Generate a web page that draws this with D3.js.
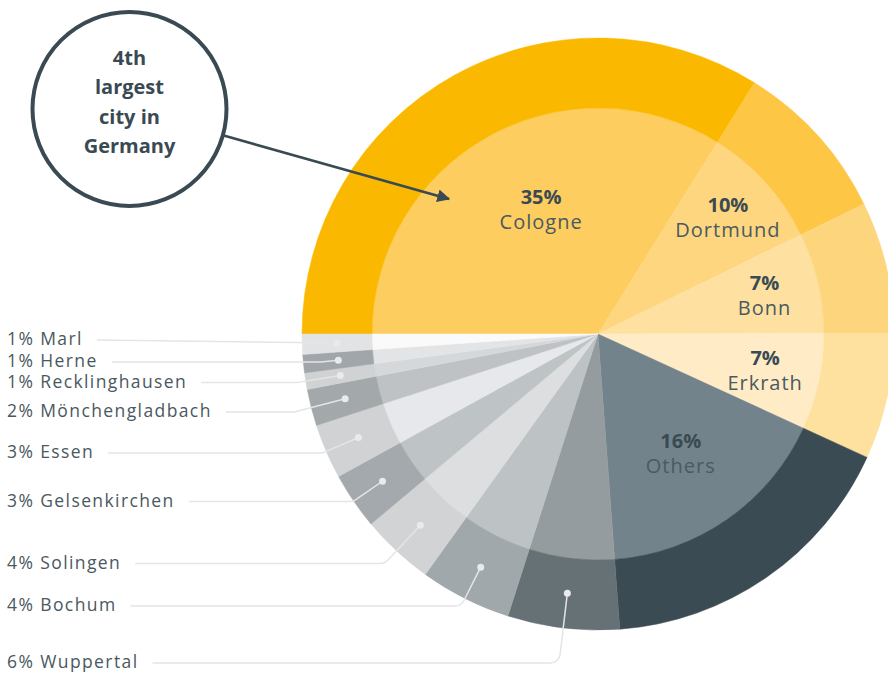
<!DOCTYPE html>
<html>
<head>
<meta charset="utf-8">
<script src="https://cdn.jsdelivr.net/npm/d3@7"></script>
<style>
  html, body { margin: 0; padding: 0; background: #fff; }
  svg { display: block; }
</style>
</head>
<body>
<svg id="chart" width="888" height="673"></svg>
<script>
// slices in drawing order, clockwise from 9 o'clock
const cities = ["Cologne", "Dortmund", "Bonn", "Erkrath", "Others", "Wuppertal", "Bochum",
  "Solingen", "Gelsenkirchen", "Essen", "Mönchengladbach", "Recklinghausen", "Herne", "Marl"];
// share of each slice
const shares = [33.9, 8.9, 7.2, 6.9, 17.0, 6.1, 5.0, 4.0, 3.1, 3.0, 2.0, 0.9, 1.0, 1.1];
// printed labels
const shareLabels = ["35%", "10%", "7%", "7%", "16%", "6%", "4%", "4%", "3%", "3%", "2%", "1%", "1%", "1%"];

const outerColors = ["#fab900", "#fdc645", "#fdd57c", "#fee19f", "#3a4b53", "#667176", "#a1a8ab",
  "#d1d3d5", "#a3a9ac", "#d0d2d4", "#a3a8ab", "#d0d2d4", "#a0a6a9", "#e2e3e5"];
const innerColors = ["#fdcd5f", "#fed67f", "#fee0a0", "#ffecc6", "#72838b", "#959c9f", "#bdc2c4",
  "#dcdee0", "#bec3c5", "#e6e8eb", "#bec2c4", "#d5d8da", "#e2e4e6", "#fafafa"];

// layout
const cx = 598, cy = 334;
const rInner = 226, rOuter = 296;
const insideCount = 5; // first slices labelled inside the pie
const insideLabelR = [137, 175, 171, 171, 145];
const insideLabelTurn = [4.5, 0, 0, 0, 0]; // degrees, nudges label off the mid angle
// baselines of the left-hand labels (Wuppertal ... Marl)
const sideBaselines = [668, 611, 568.5, 506.5, 458, 417, 387.5, 367, 345];

const svg = d3.select("#chart");
const g = svg.append("g").attr("transform", `translate(${cx},${cy})`);

const pie = d3.pie().sort(null).value(d => d.share)
  .startAngle(-Math.PI / 2).endAngle(Math.PI * 1.5);
const arcs = pie(cities.map((c, i) => ({ city: c, share: shares[i], label: shareLabels[i], i })));

const innerArc = d3.arc().innerRadius(0).outerRadius(rInner);
const outerArc = d3.arc().innerRadius(rInner).outerRadius(rOuter);

g.selectAll(".inner").data(arcs).join("path")
  .attr("class", "inner")
  .attr("d", innerArc)
  .attr("fill", d => innerColors[d.data.i])
  .attr("stroke", d => innerColors[d.data.i])
  .attr("stroke-width", 0.5);

g.selectAll(".outer").data(arcs).join("path")
  .attr("class", "outer")
  .attr("d", outerArc)
  .attr("fill", d => outerColors[d.data.i])
  .attr("stroke", d => outerColors[d.data.i])
  .attr("stroke-width", 0.5);

// labels inside the pie
const inside = arcs.slice(0, insideCount);
const insideG = g.selectAll(".inlabel").data(inside).join("g")
  .attr("class", "inlabel")
  .attr("transform", (d, i) => {
    const a = (d.startAngle + d.endAngle) / 2 + insideLabelTurn[i] * Math.PI / 180;
    const x = Math.sin(a) * insideLabelR[i], y = -Math.cos(a) * insideLabelR[i];
    return `translate(${x},${y})`;
  });
insideG.append("text")
  .attr("text-anchor", "middle")
  .attr("y", -5)
  .attr("font-family", "'Open Sans', sans-serif")
  .attr("font-weight", 700)
  .attr("font-size", 20)
  .attr("fill", "#3a4a52")
  .text(d => d.data.label);
insideG.append("text")
  .attr("text-anchor", "middle")
  .attr("y", 20)
  .attr("font-family", "'Open Sans', sans-serif")
  .attr("font-weight", 400)
  .attr("font-size", 20)
  .attr("letter-spacing", 1)
  .attr("fill", "#4a5a62")
  .text(d => d.data.city);

// labels on the left with leader lines
const outside = arcs.slice(insideCount);
const dotArc = d3.arc().innerRadius(rInner).outerRadius(rOuter);
const side = svg.append("g");

outside.forEach((d, i) => {
  const base = sideBaselines[i];
  const t = side.append("text")
    .attr("x", 7)
    .attr("y", base)
    .attr("font-family", "'Open Sans', sans-serif")
    .attr("font-size", 17.5)
    .attr("letter-spacing", 1.4)
    .attr("fill", "#4a5860")
    .text(`${d.data.label} ${d.data.city}`);
  const textEnd = 7 + t.node().getComputedTextLength();

  const [dx, dy] = dotArc.centroid(d);
  const px = cx + dx, py = cy + dy;
  const mid = (d.startAngle + d.endAngle) / 2;
  const ux = Math.sin(mid), uy = -Math.cos(mid);
  const ly = base - 5;
  const tt = (ly - py) / uy;
  const p = d3.path();
  p.moveTo(textEnd + 14, ly);
  if (tt > 3) {
    const bx = px + ux * tt;
    p.arcTo(bx, ly, px, py, 10);
  }
  p.lineTo(px, py);
  side.append("path")
    .attr("d", p.toString())
    .attr("fill", "none")
    .attr("stroke", "#e3e5e7")
    .attr("stroke-width", 1.5);
  side.append("circle")
    .attr("cx", px).attr("cy", py).attr("r", 3.5)
    .attr("fill", "#e8eaec");
});

// annotation bubble
const bubble = { x: 129.5, y: 109, r: 97 };
const arrowTip = [449, 199];
const ann = svg.append("g");
svg.append("defs").append("marker")
  .attr("id", "head")
  .attr("viewBox", "0 0 10 10")
  .attr("refX", 9).attr("refY", 5)
  .attr("markerWidth", 5).attr("markerHeight", 5)
  .attr("markerUnits", "strokeWidth")
  .attr("orient", "auto")
  .append("path").attr("d", "M0,0L10,5L0,10Z").attr("fill", "#3a4a52");

const ang = Math.atan2(arrowTip[1] - bubble.y, arrowTip[0] - bubble.x);
ann.append("line")
  .attr("x1", bubble.x + Math.cos(ang) * bubble.r)
  .attr("y1", bubble.y + Math.sin(ang) * bubble.r)
  .attr("x2", arrowTip[0]).attr("y2", arrowTip[1])
  .attr("stroke", "#3a4a52").attr("stroke-width", 2.6)
  .attr("marker-end", "url(#head)");
ann.append("circle")
  .attr("cx", bubble.x).attr("cy", bubble.y).attr("r", bubble.r)
  .attr("fill", "#fff").attr("stroke", "#3a4a52").attr("stroke-width", 4);
ann.append("text")
  .attr("text-anchor", "middle")
  .attr("font-family", "'Open Sans', sans-serif")
  .attr("font-weight", 700)
  .attr("font-size", 20)
  .attr("fill", "#3a4a52")
  .selectAll("tspan").data(["4th", "largest", "city in", "Germany"]).join("tspan")
  .attr("x", bubble.x)
  .attr("y", (d, i) => 65 + i * 29.3)
  .text(d => d);
</script>
</body>
</html>
